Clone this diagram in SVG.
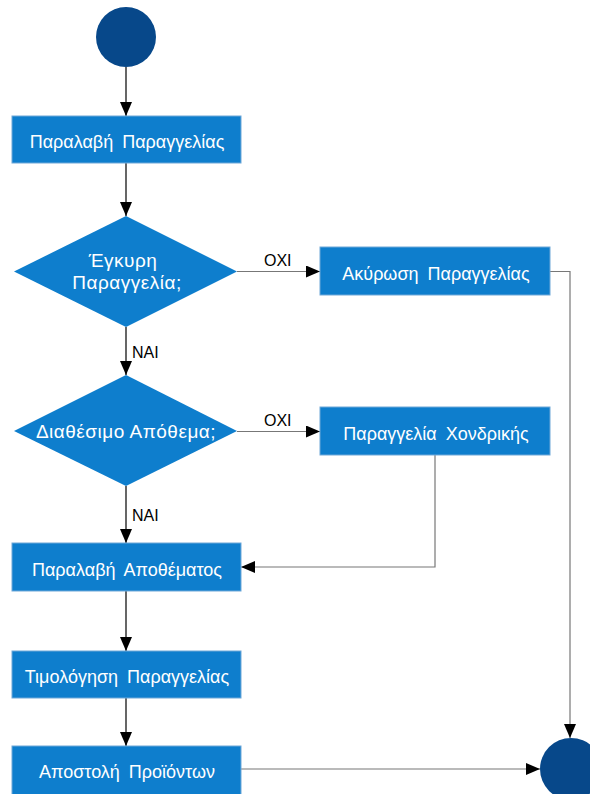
<svg xmlns="http://www.w3.org/2000/svg" width="590" height="794" viewBox="0 0 590 794">
  <style>
    .box { fill: #0E7ECD; stroke: #6FA8D8; stroke-width: 1; }
    .dec { fill: #0E7ECD; }
    .term { fill: #07488A; }
    .lbl { font-family: "Liberation Sans", Arial, sans-serif; font-size: 18px; fill: #ffffff; text-anchor: middle; word-spacing: 4px; }
    .q { font-family: "Liberation Sans", Arial, sans-serif; font-size: 19px; fill: #ffffff; text-anchor: middle; letter-spacing: 0.5px; }
    .edge { font-family: "Liberation Sans", Arial, sans-serif; font-size: 16px; fill: #000000; }
    .flow { fill: none; stroke: #000000; stroke-width: 1.2; }
    .side { fill: none; stroke: #777777; stroke-width: 1.2; }
  </style>
  <defs>
    <marker id="arrow" viewBox="0 0 14 12" refX="14" refY="6" markerWidth="14" markerHeight="12" markerUnits="userSpaceOnUse" orient="auto">
      <path d="M0,0 L14,6 L0,12 Z" fill="#000000"/>
    </marker>
  </defs>

  <!-- connectors -->
  <g id="connectors">
    <line class="flow" x1="126" y1="67" x2="126" y2="116" marker-end="url(#arrow)"/>
    <line class="flow" x1="126" y1="163" x2="126" y2="216" marker-end="url(#arrow)"/>
    <line class="flow" x1="126" y1="327" x2="126" y2="375" marker-end="url(#arrow)"/>
    <line class="side" x1="237" y1="271.5" x2="320" y2="271.5" marker-end="url(#arrow)"/>
    <line class="flow" x1="126" y1="486" x2="126" y2="543" marker-end="url(#arrow)"/>
    <line class="side" x1="237" y1="431.5" x2="320" y2="431.5" marker-end="url(#arrow)"/>
    <polyline class="side" points="435,455 435,567 241,567" marker-end="url(#arrow)"/>
    <line class="flow" x1="126" y1="591" x2="126" y2="651" marker-end="url(#arrow)"/>
    <line class="flow" x1="126" y1="698" x2="126" y2="746" marker-end="url(#arrow)"/>
    <polyline class="side" points="550,271.5 570,271.5 570,738" marker-end="url(#arrow)"/>
    <line class="side" x1="241" y1="769" x2="540" y2="769" marker-end="url(#arrow)"/>
    <text class="edge" x="264" y="266">ΟΧΙ</text>
    <text class="edge" x="132" y="358">ΝΑΙ</text>
    <text class="edge" x="264" y="426">ΟΧΙ</text>
    <text class="edge" x="132" y="521">ΝΑΙ</text>
  </g>

  <g id="start">
    <circle class="term" cx="126" cy="37" r="30"/>
  </g>

  <g id="receive-order">
    <rect class="box" x="12" y="116" width="229" height="47"/>
    <text class="lbl" x="127" y="148">Παραλαβή Παραγγελίας</text>
  </g>

  <g id="valid-order">
    <polygon class="dec" points="126,216 237,271.5 126,327 14,271.5"/>
    <text class="q" x="123" y="267">Έγκυρη</text>
    <text class="q" x="127" y="289">Παραγγελία;</text>
  </g>

  <g id="cancel-order">
    <rect class="box" x="320" y="247" width="230" height="48"/>
    <text class="lbl" x="436" y="280">Ακύρωση Παραγγελίας</text>
  </g>

  <g id="stock-available">
    <polygon class="dec" points="126,375 237,431 126,486 14,431"/>
    <text class="q" x="126" y="438">Διαθέσιμο Απόθεμα;</text>
  </g>

  <g id="wholesale-order">
    <rect class="box" x="320" y="407" width="230" height="48"/>
    <text class="lbl" x="436" y="440">Παραγγελία Χονδρικής</text>
  </g>

  <g id="receive-stock">
    <rect class="box" x="12" y="543" width="229" height="48"/>
    <text class="lbl" x="127" y="576">Παραλαβή Αποθέματος</text>
  </g>

  <g id="invoice-order">
    <rect class="box" x="12" y="651" width="229" height="47"/>
    <text class="lbl" x="127" y="683">Τιμολόγηση Παραγγελίας</text>
  </g>

  <g id="ship-products">
    <rect class="box" x="12" y="746" width="229" height="50"/>
    <text class="lbl" x="127" y="778">Αποστολή Προϊόντων</text>
  </g>

  <g id="end">
    <circle class="term" cx="571" cy="769" r="31"/>
  </g>
</svg>
